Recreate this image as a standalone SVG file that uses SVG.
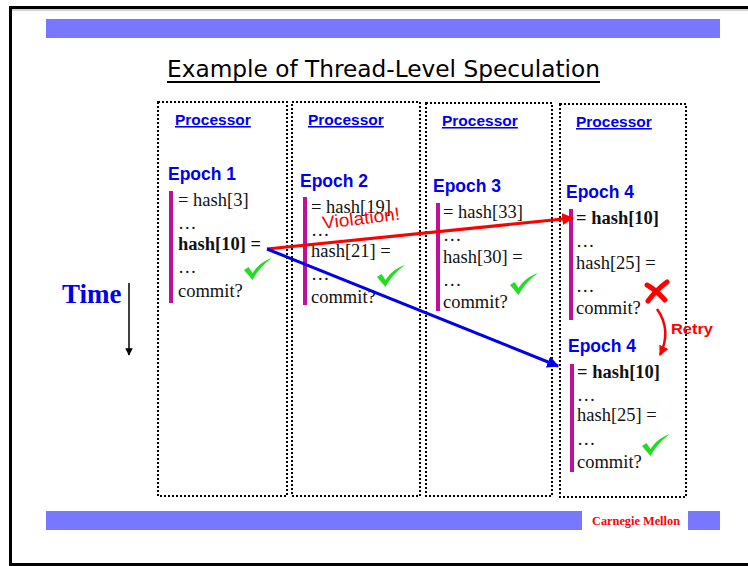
<svg xmlns="http://www.w3.org/2000/svg" width="748" height="566" viewBox="0 0 748 566">
  <defs>
    <style>
      .frame { fill: none; stroke: #000; stroke-width: 3; }
      .bar { fill: #7777ff; }
      .title { font-family: "DejaVu Sans", "Liberation Sans", sans-serif; font-size: 23px; fill: #000; }
      .box { fill: none; stroke: #000; stroke-width: 2; stroke-dasharray: 2 2; }
      .proc { font-family: "Liberation Sans", Arial, sans-serif; font-weight: bold; font-size: 15.5px; fill: #0000ee; text-decoration: underline; }
      .epoch { font-family: "Liberation Sans", Arial, sans-serif; font-weight: bold; font-size: 17.5px; fill: #0000ee; }
      .code { font-family: "Liberation Serif", "Times New Roman", serif; font-size: 18.5px; fill: #111; }
      .b { font-weight: bold; }
      .strip { fill: #c0109a; }
      .check { fill: #22dd22; }
    </style>
    <marker id="arrRed" viewBox="0 0 10 10" refX="9" refY="5" markerWidth="4" markerHeight="4" orient="auto">
      <path d="M0,0 L10,5 L0,10 z" fill="#ff0000"/>
    </marker>
    <marker id="arrBlue" viewBox="0 0 10 10" refX="9" refY="5" markerWidth="4" markerHeight="4" orient="auto">
      <path d="M0,0 L10,5 L0,10 z" fill="#0000ee"/>
    </marker>
    <marker id="arrBlack" viewBox="0 0 10 10" refX="9" refY="5" markerWidth="5" markerHeight="5" orient="auto">
      <path d="M0,0 L10,5 L0,10 z" fill="#000"/>
    </marker>
    <!-- brush-stroke tick mark, origin at its top-left -->
    <path id="tick" d="M0,12 L4.5,9 L8.5,15 C13,8 20,2.5 28,0 C21,5 14,12 8.5,22 Z"/>
  </defs>

  <rect width="748" height="566" fill="#fff"/>

  <!-- slide frame and header/footer bars -->
  <g id="slide-frame">
    <path class="frame" d="M760,7.5 H10.5 V564.5 H760"/>
    <line x1="12" y1="10" x2="760" y2="10" stroke="#aaa" stroke-width="1"/>
    <rect class="bar" x="46" y="19" width="674" height="19"/>
    <rect class="bar" x="46" y="511" width="536" height="19"/>
    <rect class="bar" x="688" y="511" width="32" height="19"/>
    <text x="636" y="525" text-anchor="middle" font-family="Liberation Serif, 'Times New Roman', serif" font-weight="bold" font-size="12px" fill="#ff0000" textLength="88" lengthAdjust="spacingAndGlyphs">Carnegie Mellon</text>
  </g>

  <!-- title -->
  <g id="title">
    <text class="title" x="167" y="77" textLength="433" lengthAdjust="spacingAndGlyphs">Example of Thread-Level Speculation</text>
    <rect x="167" y="81" width="433" height="2" fill="#000"/>
  </g>

  <!-- time axis -->
  <g id="time-axis">
    <text x="62" y="303" font-family="Liberation Serif, 'Times New Roman', serif" font-weight="bold" font-size="27px" fill="#0000ee">Time</text>
    <line x1="129" y1="283" x2="129" y2="355" stroke="#000" stroke-width="1.5" marker-end="url(#arrBlack)"/>
  </g>

  <!-- processor 1 -->
  <g id="proc1">
    <rect class="box" x="158" y="102" width="129" height="394"/>
    <text class="proc" x="175" y="125">Processor</text>
    <text class="epoch" x="168" y="180">Epoch 1</text>
    <rect class="strip" x="169" y="191" width="4" height="112"/>
    <text class="code" x="178" y="206">= hash[3]</text>
    <text class="code" x="178" y="229">…</text>
    <text class="code b" x="178" y="250">hash[10] =</text>
    <text class="code" x="178" y="273">…</text>
    <text class="code" x="178" y="297">commit?</text>
    <use href="#tick" class="check" x="244" y="258"/>
  </g>

  <!-- processor 2 -->
  <g id="proc2">
    <rect class="box" x="292" y="102" width="128" height="394"/>
    <text class="proc" x="308" y="125">Processor</text>
    <text class="epoch" x="300" y="187">Epoch 2</text>
    <rect class="strip" x="303" y="197" width="4" height="108"/>
    <text class="code" x="311" y="213">= hash[19]</text>
    <text class="code" x="311" y="236">…</text>
    <text class="code" x="311" y="257">hash[21] =</text>
    <text class="code" x="311" y="280">…</text>
    <text class="code" x="311" y="303">commit?</text>
    <use href="#tick" class="check" x="377" y="265"/>
  </g>

  <!-- processor 3 -->
  <g id="proc3">
    <rect class="box" x="426" y="103" width="126" height="393"/>
    <text class="proc" x="442" y="126">Processor</text>
    <text class="epoch" x="433" y="192">Epoch 3</text>
    <rect class="strip" x="436" y="203" width="4" height="108"/>
    <text class="code" x="443" y="218">= hash[33]</text>
    <text class="code" x="443" y="241">…</text>
    <text class="code" x="443" y="263">hash[30] =</text>
    <text class="code" x="443" y="286">…</text>
    <text class="code" x="443" y="308">commit?</text>
    <use href="#tick" class="check" x="510" y="273"/>
  </g>

  <!-- processor 4: first attempt and retry -->
  <g id="proc4">
    <rect class="box" x="560" y="104" width="126" height="393"/>
    <text class="proc" x="576" y="127">Processor</text>
    <text class="epoch" x="566" y="198">Epoch 4</text>
    <rect class="strip" x="569" y="209" width="4" height="111"/>
    <text class="code b" x="576" y="224">= hash[10]</text>
    <text class="code" x="576" y="247">…</text>
    <text class="code" x="576" y="269">hash[25] =</text>
    <text class="code" x="576" y="292">…</text>
    <text class="code" x="576" y="314">commit?</text>
    <g id="fail-mark" stroke="#ff0000" stroke-width="5" stroke-linecap="round">
      <path d="M647,285 Q656,290 665,300" fill="none"/>
      <path d="M667,282 Q656,290 648,301" fill="none"/>
    </g>
    <text class="epoch" x="568" y="352">Epoch 4</text>
    <rect class="strip" x="570" y="364" width="4" height="108"/>
    <text class="code b" x="577" y="378">= hash[10]</text>
    <text class="code" x="577" y="401">…</text>
    <text class="code" x="577" y="421">hash[25] =</text>
    <text class="code" x="577" y="445">…</text>
    <text class="code" x="577" y="468">commit?</text>
    <use href="#tick" class="check" x="642" y="434"/>
  </g>

  <!-- dependence and retry connectors -->
  <g id="connectors">
    <line x1="267" y1="249" x2="573" y2="218" stroke="#ff0000" stroke-width="3" marker-end="url(#arrRed)"/>
    <line x1="267" y1="249" x2="558" y2="366" stroke="#0000ee" stroke-width="3" marker-end="url(#arrBlue)"/>
    <path d="M657,309 Q672,330 660,355" fill="none" stroke="#ff0000" stroke-width="2.5" marker-end="url(#arrRed)"/>
    <text x="323" y="229" transform="rotate(-7 323 229)" font-family="Liberation Sans, Arial, sans-serif" font-size="18px" fill="#ff0000" textLength="78" lengthAdjust="spacingAndGlyphs">Violation!</text>
    <text x="671" y="334" font-family="Liberation Sans, Arial, sans-serif" font-weight="bold" font-size="15px" fill="#ff0000" textLength="42" lengthAdjust="spacingAndGlyphs">Retry</text>
  </g>
</svg>
